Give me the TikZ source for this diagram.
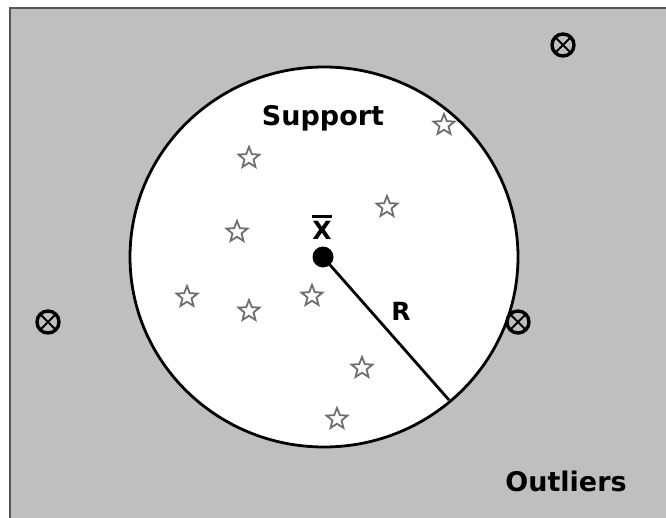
\documentclass[tikz,border=0pt]{standalone}
\usepackage{fontspec}
\setmainfont{DejaVu Sans}
\usetikzlibrary{shapes.geometric}
\definecolor{bggray}{HTML}{BFBFBF}
\definecolor{framegray}{HTML}{555555}
\definecolor{stargray}{HTML}{6E6E6E}
\tikzset{
  starpt/.style={star, star points=5, star point ratio=2.3, minimum size=22pt, inner sep=0pt,
    draw=stargray, line width=1.8pt, fill=white},
  outlier/.style={circle, minimum size=22pt, inner sep=0pt, draw=black, line width=3.4pt,
    path picture={\draw[line width=1.8pt] (path picture bounding box.north west) -- (path picture bounding box.south east)
      (path picture bounding box.north east) -- (path picture bounding box.south west);}},
  lbl/.style={font=\bfseries\fontsize{27}{30}\selectfont, inner sep=0pt},
  smalllbl/.style={font=\bfseries\fontsize{25}{28}\selectfont, inner sep=0pt}
}
\begin{document}
\begin{tikzpicture}[x=1pt,y=-1pt]
\useasboundingbox (0,0) rectangle (666,518);
\fill[white] (0,0) rectangle (666,518);
\fill[bggray] (10,8) rectangle (666,518);
\draw[framegray, line width=2pt] (10,518) -- (10,8) -- (666,8);
% support region
\node[ellipse, minimum width=388pt, minimum height=380pt, inner sep=0pt, draw=black, line width=2.8pt, fill=white] (sup) at (324,257) {};
\coordinate (rend) at (449,400);
\node[circle, fill=black, minimum size=21pt, inner sep=0pt] (c) at (323,257) {};
\draw[line width=2.8pt] (c.center) -- (rend);
\node[smalllbl] (xl) at (322,230) {X};
\draw[line width=2.4pt] ([yshift=4pt]xl.north west) -- ([yshift=4pt]xl.north east);
\node[smalllbl] (r) at (401,311) {R};
\node[lbl] (support) at (323,118) {Support};
\node[lbl] (outl) at (566,481) {Outliers};
% stars
\node[starpt] (s1) at (444,125) {};
\node[starpt] (s2) at (249,158) {};
\node[starpt] (s3) at (387,207) {};
\node[starpt] (s4) at (237,232) {};
\node[starpt] (s5) at (187,297) {};
\node[starpt] (s6) at (249,311) {};
\node[starpt] (s7) at (312,296) {};
\node[starpt] (s8) at (362,368) {};
\node[starpt] (s9) at (337,419) {};
% outliers
\node[outlier] (o1) at (48,322) {};
\node[outlier] (o2) at (563,45) {};
\node[outlier] (o3) at (518,322) {};
\end{tikzpicture}
\end{document}
